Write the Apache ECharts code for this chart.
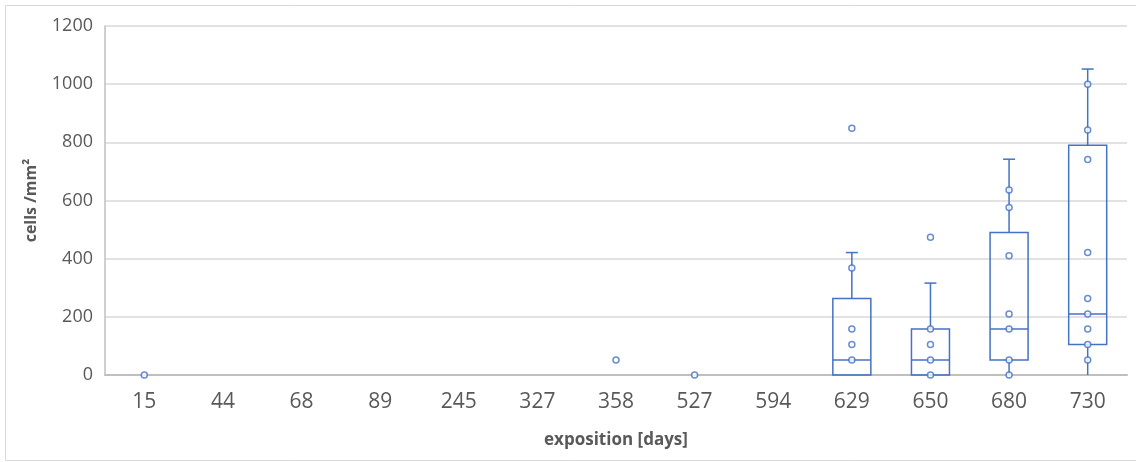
<!DOCTYPE html>
<html>
<head>
<meta charset="utf-8">
<script src="https://cdn.jsdelivr.net/npm/echarts@6/dist/echarts.min.js"></script>
<style>
html,body{margin:0;padding:0;background:#fff;}
#chart{width:1136px;height:462px;}
</style>
</head>
<body>
<div id="chart"></div>
<script>
// Categories (exposition days)
const categories = ['15','44','68','89','245','327','358','527','594','629','650','680','730'];
// Box statistics: [categoryIndex, min, Q1, median, Q3, max]
const boxStats = [
  [9, 0, 0, 52, 263, 421],
  [10, 0, 0, 52, 158, 316],
  [11, 0, 52, 158, 490, 742],
  [12, 0, 105, 210, 790, 1052]
];
// Individual points per category
const points15 = [0];
const points358 = [52];
const points527 = [0];
const points629 = [52, 105, 158, 368, 848];
const points650 = [0, 52, 105, 158, 474];
const points680 = [0, 52, 158, 210, 410, 576, 636];
const points730 = [52, 105, 158, 210, 263, 421, 741, 842, 1000];
const yTicks = [0, 200, 400, 600, 800, 1000, 1200];

const pointGroups = [
  ['15', points15], ['358', points358], ['527', points527],
  ['629', points629], ['650', points650], ['680', points680], ['730', points730]
];
const scatterData = [];
pointGroups.forEach(([c, vals]) => vals.forEach(v => scatterData.push([c, v])));

const BLUE = '#4472C4';
const chart = echarts.init(document.getElementById('chart'), null, {renderer: 'canvas'});
chart.setOption({
  animation: false,
  backgroundColor: '#fff',
  graphic: [{
    type: 'rect', z: 0,
    shape: {x: 5.5, y: 5.5, width: 1140, height: 455},
    style: {fill: 'none', stroke: '#d9d9d9', lineWidth: 1}
  }],
  grid: {left: 105, right: 9, top: 26, bottom: 87},
  xAxis: {
    type: 'category',
    data: categories,
    boundaryGap: true,
    name: 'exposition [days]',
    nameLocation: 'middle',
    nameGap: 57,
    nameTextStyle: {fontFamily: 'Open Sans', fontSize: 17, fontWeight: 'bold', color: '#595959'},
    axisLine: {lineStyle: {color: '#bfbfbf', width: 2}},
    axisTick: {show: false},
    axisLabel: {fontFamily: 'Open Sans', fontSize: 21, color: '#595959', margin: 17}
  },
  yAxis: {
    type: 'value',
    min: 0, max: 1200, interval: 200,
    name: 'cells /mm²',
    nameLocation: 'middle',
    nameGap: 66,
    nameTextStyle: {fontFamily: 'Open Sans', fontSize: 16, fontWeight: 'bold', color: '#595959'},
    axisLine: {show: true, lineStyle: {color: '#bfbfbf', width: 1.5}},
    axisTick: {show: false},
    axisLabel: {fontFamily: 'Open Sans', fontSize: 18, color: '#595959', margin: 12,
      formatter: v => yTicks.includes(v) ? String(v) : ''},
    splitLine: {lineStyle: {color: '#d9d9d9', width: 1.5}}
  },
  series: [
    {
      type: 'custom',
      data: boxStats,
      encode: {x: 0, y: [1, 2, 3, 4, 5]},
      z: 3,
      renderItem: function (params, api) {
        const idx = api.value(0);
        const cx = api.coord([idx, 0])[0];
        const yv = k => api.coord([idx, api.value(k)])[1];
        const yMin = yv(1), yQ1 = yv(2), yMed = yv(3), yQ3 = yv(4), yMax = yv(5);
        const hw = 19, cw = 6;
        const st = {stroke: BLUE, lineWidth: 1.5, fill: 'none'};
        const children = [
          {type: 'line', shape: {x1: cx, y1: yQ3, x2: cx, y2: yMax}, style: st},
          {type: 'line', shape: {x1: cx - cw, y1: yMax, x2: cx + cw, y2: yMax}, style: st},
          {type: 'line', shape: {x1: cx, y1: yQ1, x2: cx, y2: yMin}, style: st},
          {type: 'rect', shape: {x: cx - hw, y: yQ3, width: 2 * hw, height: yQ1 - yQ3}, style: st},
          {type: 'line', shape: {x1: cx - hw, y1: yMed, x2: cx + hw, y2: yMed}, style: st}
        ];
        return {type: 'group', children: children};
      }
    },
    {
      type: 'scatter',
      data: scatterData,
      symbol: 'circle',
      symbolSize: 6,
      z: 4,
      itemStyle: {color: '#fff', borderColor: BLUE, borderWidth: 1.5}
    }
  ]
});
</script>
</body>
</html>
